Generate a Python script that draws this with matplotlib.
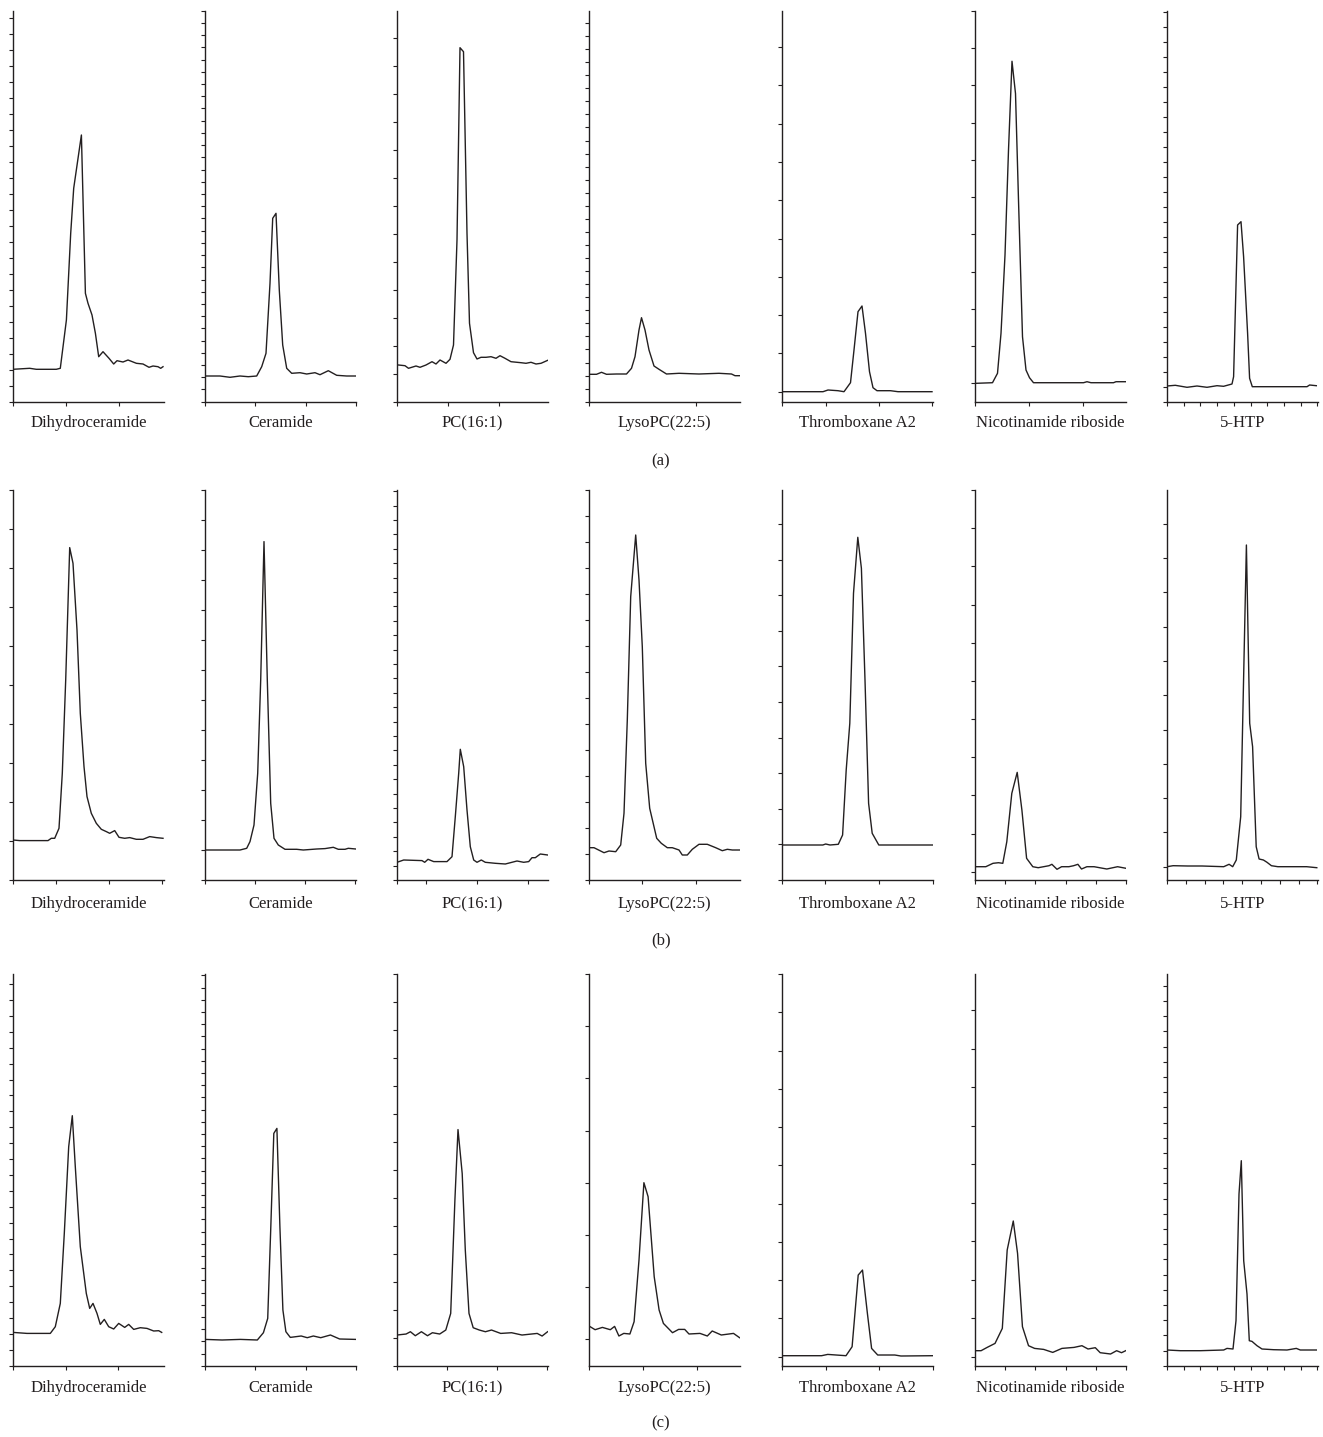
import matplotlib
matplotlib.use("Agg")
from matplotlib import pyplot as plt
import numpy as np

plt.rcParams['font.family'] = ['Liberation Serif', 'DejaVu Serif']

compounds = ['Dihydroceramide', 'Ceramide', 'PC(16:1)', 'LysoPC(22:5)',
             'Thromboxane A2', 'Nicotinamide riboside', '5-HTP']
row_labels = ['(a)', '(b)', '(c)']

# ---- row (a) traces: retention time (arb.) / intensity (arb.) ----
a_dihydro_t = [0, 16.7, 23.3, 43.3, 47.3, 53.4, 57.7, 60.7, 68.4, 72.4, 75, 79, 82.4, 85.7, 90, 96,
               100.7, 104, 110, 115, 123.4, 130, 136, 140, 145, 147.7, 150]
a_dihydro_i = [32.4, 33.4, 32.4, 32.4, 33.4, 81.7, 168.4, 213.4, 266.7, 108.4, 98.4, 86.7, 68.4, 45, 50,
               43.4, 37.7, 41, 39.7, 41.7, 38.4, 37.7, 34.4, 35.7, 35, 33.4, 35]
a_cer_t = [0, 15, 25, 35, 43.3, 51.7, 56.7, 61, 65, 67.7, 71, 74.3, 77.7, 81.7, 86.7, 95, 101.7, 110,
           115, 123.3, 131.7, 141.7, 150.7]
a_cer_i = [25.7, 25.7, 24.4, 25.7, 25, 25.7, 35, 48.4, 118.4, 183.4, 188.4, 111.7, 56.7, 33.4, 28.4, 29,
           27.7, 29, 27, 31, 26.4, 25.7, 25.7]
a_pc_t = [1.5, 8, 11.5, 19, 23, 29, 35, 39, 43, 49, 53, 56.5, 60, 63, 66.5, 70, 72.5, 76.5, 80, 84, 89,
          94, 99, 103, 108, 114, 124, 129, 134, 139, 144, 153]
a_pc_i = [36.7, 36, 33.4, 35.7, 34.4, 36.7, 40, 37.7, 41.7, 38.4, 42.4, 56.7, 161.7, 354, 350, 168.4,
          78.4, 49, 42.7, 44.4, 44.4, 45, 43.4, 46, 43.4, 40, 39, 38.4, 39.4, 37.7, 38.4, 42.4]
a_lyso_t = [1, 7.5, 12.5, 17.5, 27.5, 37.5, 42.5, 46, 50, 52.5, 56, 60, 65, 70, 77.5, 90, 110, 130,
            142.5, 146, 152.5]
a_lyso_i = [27.4, 27.4, 29.4, 27.4, 27.7, 27.7, 33.4, 45, 71.7, 84, 71.7, 51.7, 35.7, 32.4, 27.7, 28.4,
            27.7, 28.4, 27.7, 26, 26]
a_txa_t = [1, 41, 46, 56, 62, 68.5, 72, 76, 80, 83.5, 87.5, 91, 95, 108.5, 116, 150]
a_txa_i = [10, 10, 11.7, 11, 10, 19, 51.7, 90, 95.7, 68.4, 30, 14, 11, 11, 10, 10]
a_nr_t = [1, 17.5, 22.5, 26, 30, 33.5, 37, 40.5, 43.5, 47.5, 51, 54.5, 58.5, 108.5, 112, 116, 138.5,
          141, 152.5]
a_nr_i = [18.4, 19, 28.4, 68.4, 146.7, 251.7, 340.7, 308.4, 201.7, 65, 31.7, 24, 19, 19, 20, 19, 19,
          20, 20]
a_htp_t = [0, 8.3, 20, 30, 40, 50, 56.6, 65, 66.6, 70.6, 74, 76.6, 80.6, 82.6, 85.3, 140, 142.6, 149.3]
a_htp_i = [15.7, 16.4, 14.4, 15.7, 14.4, 16, 15.4, 17.7, 25, 176.7, 180, 145, 68.4, 23.4, 15, 15,
           16.7, 16]

# ---- row (b) traces ----
b_dihydro_t = [0, 6.7, 35, 38.3, 41.7, 46, 49.3, 52.7, 56.7, 60, 64, 67.3, 71, 74, 78.3, 83.3, 88.3,
               93.3, 96.7, 101.7, 106, 111.7, 116.7, 123.3, 130, 136.7, 143.3, 150]
b_dihydro_i = [40, 39.4, 39.4, 41.7, 41.7, 51.7, 106.7, 200, 332.4, 316.7, 250, 166.7, 113.4, 83.4,
               66.7, 56.7, 50.7, 48.4, 46.7, 49.4, 42.7, 41.7, 42.4, 40.7, 40.7, 43.4, 42.4, 41.7]
b_cer_t = [0, 35, 41.7, 45, 49, 52.7, 55.7, 59, 62.3, 65.7, 69, 73.3, 80, 91.7, 98.3, 111.7, 120,
           128.3, 133.3, 140, 143.3, 150.7]
b_cer_i = [30, 30, 31.7, 38.4, 55, 106.7, 200, 338.4, 200, 76.7, 41.7, 35, 30.7, 30.7, 30, 31, 31.4,
           32.7, 30.7, 30.7, 31.7, 31]
b_pc_t = [0, 6.7, 25, 27.7, 31, 36.7, 50, 55, 58.3, 61.7, 63.3, 66.7, 70, 73.3, 76.7, 80, 84.3, 88.3,
          98.3, 108.3, 120, 126.7, 131.7, 135, 138.3, 143.3, 150.7]
b_pc_i = [17.7, 20, 19.4, 17.7, 20.7, 18.4, 18.4, 23.3, 63.3, 106.7, 130.7, 113.3, 70, 33.3, 20, 17.7,
          20, 17.7, 16.7, 16, 19, 17.7, 18.4, 22.3, 22.3, 26, 25]
b_lyso_t = [0, 5, 15, 20, 26.7, 31.7, 35, 38.3, 41.7, 46.7, 50, 53.3, 56.7, 60.7, 67.7, 72.3, 78.3,
            83.3, 90, 93.3, 98.3, 103.3, 110, 118.3, 126.7, 133.3, 138.3, 143.3, 151]
b_lyso_i = [32.3, 32.3, 27.3, 29, 28.3, 35, 66.7, 160, 283.3, 345, 300, 233.3, 116.7, 71.7, 41.7, 36.7,
            32.3, 32.3, 30, 25, 25, 30.7, 35.7, 35.7, 32.3, 29.3, 30.7, 30, 30]
b_txa_t = [0, 40.8, 43.7, 48, 56.3, 60.6, 64.2, 67.8, 71.5, 75.8, 79.4, 83, 86.6, 90.2, 96.8, 150.9]
b_txa_i = [35, 35, 36, 35, 35.7, 45, 110, 156.7, 286.7, 342.7, 311.7, 200, 76.7, 46.7, 35, 35]
b_nr_t = [0, 10.8, 18, 23.5, 27.8, 31.8, 36.8, 42.2, 46.9, 51.6, 57.8, 63.2, 74, 76.9, 82, 86.6, 93.9,
          98.6, 102.9, 106.5, 111.9, 119.1, 131.8, 142.6, 151]
b_nr_i = [13.3, 13.3, 16.7, 17.3, 16.7, 38.3, 86.7, 107.7, 70, 21.7, 13.3, 12.3, 14.3, 15.7, 10.7,
          13.3, 13.3, 14.3, 15.7, 11, 13.3, 13.3, 11, 13.3, 11.7]
b_htp_t = [0, 6.1, 20.6, 35, 56.7, 62.1, 65.7, 69.3, 73.7, 79.4, 82.7, 85.6, 89.2, 92.1, 96.4, 100,
           104.4, 110.8, 139.7, 149.8]
b_htp_i = [13.3, 14.3, 14, 14, 13.3, 15.7, 13.3, 20, 63.3, 335, 156.7, 133.3, 33.3, 21, 20, 17.7,
           14.3, 13.3, 13.3, 12.3]

# ---- row (c) traces ----
c_dihydro_t = [0, 14, 37.3, 42.3, 47.3, 51.3, 55.7, 59.3, 62.3, 67.3, 73.3, 76.7, 80, 84, 87.3, 91.3,
               95.7, 100.7, 105.7, 111.7, 115.7, 120.7, 127.3, 134, 140.7, 145.7, 148.7]
c_dihydro_i = [33.3, 32.3, 32.3, 39, 62.3, 132.3, 219, 250, 199, 119, 72.3, 57.3, 62.3, 52.3, 41.3,
               46.3, 39, 36.7, 42.3, 38.3, 41.3, 36.3, 38, 37.3, 34.7, 35, 33.3]
c_cer_t = [0, 17.1, 35.4, 52.4, 58.5, 62.8, 65.9, 68.9, 72, 75, 78, 81, 85.4, 96.3, 102.4, 108.5,
           115.9, 125.6, 134.8, 151.2]
c_cer_i = [26.3, 25.7, 26.3, 25.7, 33, 47.3, 139, 232.3, 237.3, 139, 55.7, 34, 28.3, 29.7, 28, 29.7,
           28, 30.7, 26.7, 26.3]
c_pc_t = [0, 9.1, 13.4, 18.3, 24.4, 30.5, 35.4, 42.7, 48.8, 53.7, 57.9, 61, 65.2, 68.3, 72, 76.2,
          82.3, 88.4, 94.5, 103.7, 114.6, 125, 140.2, 145.1, 150.6]
c_pc_i = [30.7, 31.7, 34, 30, 34, 30, 33, 31.7, 35.7, 52.3, 165.7, 236.3, 192.3, 115.7, 52.3, 38,
          35.7, 34, 35.7, 32.3, 33, 30.7, 32.3, 29.7, 34]
c_lyso_t = [0, 6.1, 13.4, 21.3, 25.6, 29.9, 34.8, 40.9, 45.1, 50, 54.9, 59.1, 65.2, 70.1, 74.4, 83.5,
            89.6, 95.7, 100, 111, 118.3, 123.2, 132.3, 144.5, 150.6]
c_lyso_i = [39.7, 36, 38.3, 36, 39.3, 29.7, 32.3, 31.7, 44, 105.7, 183, 169, 89, 55.7, 42.3, 33, 36.3,
            36.3, 31.7, 32.3, 29.7, 34.7, 30.7, 32.3, 28]
c_txa_t = [0, 39.6, 45.7, 64, 70.1, 76.2, 80.5, 85.4, 89.6, 95.7, 112.8, 118.9, 150.6]
c_txa_i = [10, 10, 11.3, 10, 19, 90.7, 95.7, 52.3, 17.3, 10.7, 10.7, 9.7, 10]
c_nr_t = [0, 6.1, 12.2, 20.1, 27.4, 32.3, 38.4, 42.7, 47.6, 53.7, 59.8, 68.9, 78, 87.2, 99.4, 107.3,
          113.4, 120.7, 125.6, 136, 142.1, 147, 151.2]
c_nr_i = [15, 15, 18.3, 22.3, 37.3, 115.7, 144.7, 112.3, 39, 20, 17.3, 16.3, 13.3, 17.3, 18.3, 20,
          16.7, 18, 13, 11.7, 15, 13, 15]
c_htp_t = [0, 13.3, 33.3, 56.7, 60, 66, 69, 72, 74.3, 76.7, 80, 82.3, 85, 90, 95, 106.7, 120, 129.3,
           133.3, 149.3]
c_htp_i = [15.7, 15, 15, 15.7, 17.3, 16.7, 45, 171.7, 205, 105, 71.7, 25, 24.3, 20, 16.7, 16, 15.7,
           17.3, 15.7, 15.7]

traces = [
    [(a_dihydro_t, a_dihydro_i), (a_cer_t, a_cer_i), (a_pc_t, a_pc_i), (a_lyso_t, a_lyso_i),
     (a_txa_t, a_txa_i), (a_nr_t, a_nr_i), (a_htp_t, a_htp_i)],
    [(b_dihydro_t, b_dihydro_i), (b_cer_t, b_cer_i), (b_pc_t, b_pc_i), (b_lyso_t, b_lyso_i),
     (b_txa_t, b_txa_i), (b_nr_t, b_nr_i), (b_htp_t, b_htp_i)],
    [(c_dihydro_t, c_dihydro_i), (c_cer_t, c_cer_i), (c_pc_t, c_pc_i), (c_lyso_t, c_lyso_i),
     (c_txa_t, c_txa_i), (c_nr_t, c_nr_i), (c_htp_t, c_htp_i)],
]

# tick layout for each panel: (y step, y offset, x step, x offset)
ticks = [
    [(16, 0, 53, 0), (12.22, 0, 50.3, 0), (28, 0, 51, 0), (13.06, 0, 107, 0),
     (38.3, 10, 53.3, 43.5), (37.3, 18.3, 54, 0), (15, 0, 16.7, 0)],
    [(39, 0, 53.3, 42.7), (30, 0, 50, 0), (14.4, 0, 51, 29), (26, 0, 53.3, 0),
     (35.6, 0, 53.7, 43.3), (38.2, 8.3, 30.2, 0), (34.3, 13.3, 18.8, 0)],
    [(15.9, 0, 52.5, 0), (12.2, 0, 50.4, 0), (28, 0, 50, 0), (52.2, 26.3, 54, 0),
     (38.3, 9, 53.4, 43.9), (38.5, 9, 30.3, 0), (15.2, 0, 16.7, 0)],
]

W = 151.0
FW, FH = 1323, 1437
lefts = [13, 205, 397, 589, 782, 975, 1167]
row_bottoms = [401.7, 880, 1365.7]
row_heights = [391, 390, 391.7]
name_y = [423, 904, 1388]
tag_y = [461, 940, 1423]
ink = '#231f20'

fig = plt.figure(figsize=(FW / 100, FH / 100), dpi=100)

for r in range(3):
    H = row_heights[r]
    for c in range(7):
        ax = fig.add_axes([lefts[c] / FW, 1 - row_bottoms[r] / FH, W / FW, H / FH])
        t, inten = traces[r][c]
        ax.plot(t, inten, color=ink, lw=1.0)
        ax.set_xlim(0, W)
        ax.set_ylim(0, H)
        ys, yo, xs, xo = ticks[r][c]
        yt = np.arange(yo, H + 0.5, ys)
        xt = np.arange(xo, W + 0.6, xs)
        if xo > 0:
            xt = np.concatenate([[0], xt])
        ax.set_yticks(yt)
        ax.set_xticks(xt)
        ax.set_yticklabels([])
        ax.set_xticklabels([])
        ax.tick_params(direction='out', length=3.2, width=0.8, color=ink)
        for s in ['top', 'right']:
            ax.spines[s].set_visible(False)
        for s in ['left', 'bottom']:
            ax.spines[s].set_linewidth(1.0)
            ax.spines[s].set_color(ink)
        fig.text((lefts[c] + W / 2) / FW, 1 - name_y[r] / FH, compounds[c],
                 ha='center', va='center', fontsize=12, color=ink)
    fig.text(661 / FW, 1 - tag_y[r] / FH, row_labels[r], ha='center', va='center',
             fontsize=12, color=ink)

fig.savefig('out.png', dpi=100)
